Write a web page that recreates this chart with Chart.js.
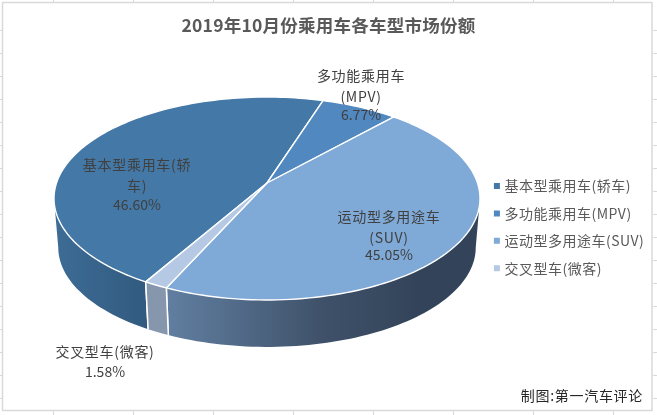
<!DOCTYPE html>
<html>
<head>
<meta charset="utf-8">
<style>html,body{margin:0;padding:0;background:#fff}canvas{display:block}</style>
<script src="https://cdn.jsdelivr.net/npm/chart.js@4"></script>
</head>
<body>
<canvas id="c" width="657" height="415" style="width:657px;height:415px"></canvas>
<script>
const chartTitle = '2019年10月份乘用车各车型市场份额';
const sourceNote = '制图:第一汽车评论';
const categories = ['基本型乘用车(轿车)', '多功能乘用车(MPV)', '运动型多用途车(SUV)', '交叉型车(微客)'];
const shares = [46.60, 6.77, 45.05, 1.58];
const shareLabels = ['46.60%', '6.77%', '45.05%', '1.58%'];
const labelLines = [['基本型乘用车(轿', '车)'], ['多功能乘用车', '(MPV)'], ['运动型多用途车', '(SUV)'], ['交叉型车(微客)']];
const labelCentreX = [137, 361, 389, 105];
const labelLineY = [[165, 186, 205], [76, 97, 115], [217, 238, 255], [352, 372]];
const topColours = ['#4478A6', '#5088BF', '#7FA9D6', '#B5C9E4'];
const wallStops = [
  [[0, '#3D6C95'], [1, '#325A7F']],
  [[0, '#3F6F9C'], [1, '#3F6F9C']],
  [[0, '#617FA1'], [0.5, '#3F5169'], [0.8, '#33445A'], [1, '#33445A']],
  [[0, '#8696AC'], [1, '#8696AC']]
];
const gridX = [53, 133, 213, 293, 373, 453, 533, 613];
const gridY = [30, 53, 76, 99, 122, 145, 168, 191, 214, 237, 260, 283, 306, 329, 352, 375, 398];

const FONT = '"Noto Sans CJK SC", "Noto Sans", sans-serif';
const APEX = {x: 267, y: 183};
const RADIUS = 210.5, TILT = 0.4708, PERSP = -0.1527;
const BASE_SCALE = 0.98, BASE_DROP = 49.3;
const rad = d => d * Math.PI / 180;

function rim(el, a, scale, drop) {
  const c = Math.cos(a), s = Math.sin(a), w = 1 + PERSP * s, R = el.outerRadius;
  return {x: el.x + scale * R * c / w, y: el.y + drop + scale * R * TILT * s / w};
}
function samples(a0, a1) {
  const n = Math.max(2, Math.ceil((a1 - a0) / rad(1.5))), out = [];
  for (let i = 0; i <= n; i++) out.push(a0 + (a1 - a0) * i / n);
  return out;
}
function drawWall(ctx, el, i) {
  const lo = rad(8.8), hi = rad(171.2);
  [0, 2 * Math.PI].forEach(k => {
    const a0 = Math.max(el.startAngle, lo + k), a1 = Math.min(el.endAngle, hi + k);
    if (a1 <= a0) return;
    const top = samples(a0, a1).map(a => rim(el, a, 1, 0));
    const bottom = samples(a0, a1).map(a => rim(el, a, BASE_SCALE, BASE_DROP));
    const xs = top.concat(bottom).map(p => p.x);
    const g = ctx.createLinearGradient(Math.min(...xs), 0, Math.max(...xs), 0);
    wallStops[i].forEach(s => g.addColorStop(s[0], s[1]));
    ctx.beginPath();
    top.forEach((p, j) => j ? ctx.lineTo(p.x, p.y) : ctx.moveTo(p.x, p.y));
    bottom.reverse().forEach(p => ctx.lineTo(p.x, p.y));
    ctx.closePath();
    ctx.fillStyle = g;
    ctx.fill();
    ctx.strokeStyle = '#fff';
    ctx.lineWidth = 1.5;
    [[a0, el.startAngle], [a1, el.endAngle]].forEach(([a, edge]) => {
      if (a !== edge) return;
      const p = rim(el, a, 1, 0), q = rim(el, a, BASE_SCALE, BASE_DROP);
      ctx.beginPath(); ctx.moveTo(p.x, p.y); ctx.lineTo(q.x, q.y); ctx.stroke();
    });
  });
}
function drawTop(ctx, el) {
  ctx.beginPath();
  ctx.moveTo(el.x, el.y);
  samples(el.startAngle, el.endAngle).forEach(a => { const p = rim(el, a, 1, 0); ctx.lineTo(p.x, p.y); });
  ctx.closePath();
  ctx.fillStyle = el.options.backgroundColor;
  ctx.fill();
  ctx.strokeStyle = '#fff';
  ctx.lineWidth = 1.4;
  ctx.lineJoin = 'round';
  ctx.stroke();
}

const piePlugin = {
  id: 'tiltedPie',
  afterInit(chart) {
    const spaced = (box, px) => {
      const draw = box.draw;
      box.draw = function (area) {
        chart.ctx.letterSpacing = px + 'px';
        draw.call(this, area);
        chart.ctx.letterSpacing = '0px';
      };
    };
    spaced(chart.titleBlock, 0.25);
    spaced(chart.legend, 0.5);
  },
  afterLayout(chart) {
    const half = 170;
    chart.chartArea = {left: APEX.x - half, right: APEX.x + half, top: APEX.y - half, bottom: APEX.y + half, width: 2 * half, height: 2 * half};
    chart.legend.left = 483;
    chart.legend.top = 165.6;
  },
  beforeDraw(chart) {
    const ctx = chart.ctx;
    ctx.save();
    ctx.fillStyle = '#fff';
    ctx.fillRect(0, 0, chart.width, chart.height);
    ctx.strokeStyle = '#D9D9D9';
    ctx.lineWidth = 1;
    ctx.beginPath();
    gridX.forEach(x => { ctx.moveTo(x + .5, 0); ctx.lineTo(x + .5, 2); ctx.moveTo(x + .5, 411); ctx.lineTo(x + .5, 415); });
    gridY.forEach(y => { ctx.moveTo(0, y + .5); ctx.lineTo(2, y + .5); ctx.moveTo(653, y + .5); ctx.lineTo(657, y + .5); });
    ctx.stroke();
    ctx.lineWidth = 1.5;
    ctx.strokeRect(2.5, 2.5, 649.5, 408);
    ctx.restore();
  },
  beforeDatasetDraw(chart, args) {
    const ctx = chart.ctx, els = args.meta.data;
    ctx.save();
    els.forEach((el, i) => drawWall(ctx, el, i));
    els.forEach(el => drawTop(ctx, el));
    ctx.restore();
    return false;
  },
  afterDatasetsDraw(chart) {
    const ctx = chart.ctx;
    ctx.save();
    ctx.textAlign = 'center';
    ctx.textBaseline = 'middle';
    ctx.font = '14px ' + FONT;
    ctx.fillStyle = '#404040';
    labelLines.forEach((lines, i) => {
      ctx.letterSpacing = '0.7px';
      lines.forEach((t, j) => ctx.fillText(t, labelCentreX[i], labelLineY[i][j]));
      ctx.letterSpacing = '0px';
      ctx.fillText(shareLabels[i], labelCentreX[i], labelLineY[i][lines.length]);
    });
    ctx.letterSpacing = '0.7px';
    ctx.textAlign = 'right';
    ctx.fillStyle = '#262626';
    ctx.fillText(sourceNote, 643, 396);
    ctx.restore();
  }
};

new Chart(document.getElementById('c'), {
  type: 'pie',
  data: {
    labels: categories,
    datasets: [{data: shares, backgroundColor: topColours, borderWidth: 0, radius: RADIUS, clip: false}]
  },
  options: {
    responsive: false,
    animation: false,
    devicePixelRatio: 1,
    rotation: 210,
    events: [],
    layout: {padding: 0},
    plugins: {
      tooltip: {enabled: false},
      title: {
        display: true, text: chartTitle, color: '#595959',
        font: {family: FONT, size: 17.5, weight: 'bold'},
        padding: {top: 15, bottom: 10}
      },
      legend: {
        position: 'right',
        align: 'start',
        labels: {
          usePointStyle: true, pointStyle: 'rect', boxWidth: 1, boxHeight: 6,
          padding: 13.4, color: '#595959', font: {family: FONT, size: 14}
        }
      }
    }
  },
  plugins: [piePlugin]
});
</script>
</body>
</html>
